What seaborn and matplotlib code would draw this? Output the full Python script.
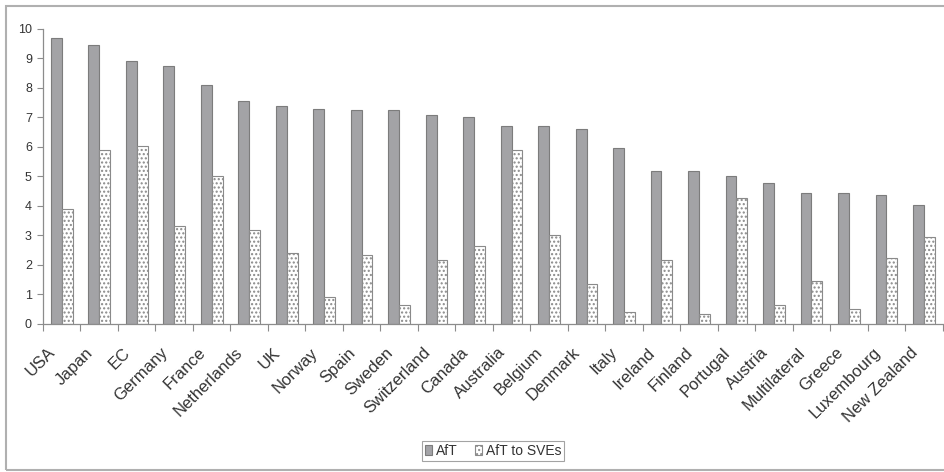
import numpy as np
import pandas as pd
import seaborn as sns
import matplotlib
matplotlib.use("Agg")
import matplotlib.pyplot as plt
from matplotlib.patches import Rectangle, Patch
from matplotlib.transforms import ScaledTranslation

# Aid for Trade commitments by donor (share, %)
countries = ["USA", "Japan", "EC", "Germany", "France", "Netherlands", "UK",
             "Norway", "Spain", "Sweden", "Switzerland", "Canada", "Australia",
             "Belgium", "Denmark", "Italy", "Ireland", "Finland", "Portugal",
             "Austria", "Multilateral", "Greece", "Luxembourg", "New Zealand"]
aft = [9.7, 9.45, 8.9, 8.75, 8.1, 7.55, 7.4, 7.3, 7.25, 7.25, 7.07, 7.0,
       6.7, 6.7, 6.6, 5.97, 5.17, 5.17, 5.0, 4.77, 4.45, 4.45, 4.37, 4.05]
aft_sves = [3.9, 5.9, 6.05, 3.33, 5.0, 3.2, 2.4, 0.9, 2.33, 0.65, 2.17, 2.63,
            5.9, 3.03, 1.37, 0.42, 2.16, 0.34, 4.28, 0.65, 1.45, 0.5, 2.23, 2.95]
series_names = ["AfT", "AfT to SVEs"]
y_ticks = list(range(0, 11))

df = pd.DataFrame({
    "country": countries * 2,
    "value": aft + aft_sves,
    "series": [series_names[0]] * len(countries) + [series_names[1]] * len(countries),
})

sns.set_style("white")
plt.rcParams["font.family"] = ["Liberation Sans", "DejaVu Sans"]
plt.rcParams["hatch.color"] = "#8a8a8a"
plt.rcParams["hatch.linewidth"] = 1.0

GRAY = "#a3a3a7"
EDGE = "#7c7c7c"
TEXT = "#333333"

fig = plt.figure(figsize=(9.45, 4.72), dpi=100)
ax = fig.add_axes([0.0455, 0.3136, 0.952, 0.625])

sns.barplot(data=df, x="country", y="value", hue="series",
            palette=[GRAY, "white"], width=0.58, gap=0.0,
            edgecolor=EDGE, linewidth=0.8, ax=ax, legend=False)

for bar in ax.containers[1]:
    bar.set_hatch("....")
    bar.set_edgecolor("#8a8a8a")

ax.set_xlim(-0.5, len(countries) - 0.5)
ax.set_ylim(0, 10)
ax.set_yticks(y_ticks)
ax.set_xlabel("")
ax.set_ylabel("")

for side in ["top", "right"]:
    ax.spines[side].set_visible(False)
for side in ["left", "bottom"]:
    ax.spines[side].set_color("#8c8c8c")
    ax.spines[side].set_linewidth(0.9)

ax.tick_params(axis="y", which="major", direction="out", length=4, width=0.8,
               color="#8c8c8c", labelsize=9, labelcolor=TEXT, pad=4, left=True)
ax.set_xticks(np.arange(len(countries)))
ax.set_xticklabels(countries, rotation=45, ha="right", rotation_mode="anchor",
                   fontsize=12, color=TEXT)
ax.tick_params(axis="x", which="major", length=0, pad=15)
ax.set_xticks(np.arange(-0.5, len(countries)), minor=True)
ax.tick_params(axis="x", which="minor", direction="out", length=5, width=0.8,
               color="#8c8c8c", bottom=True)

# nudge the slanted category names a little to the left of each group
shift = ScaledTranslation(-14 / 100, 0, fig.dpi_scale_trans)
for lbl in ax.get_xticklabels():
    lbl.set_transform(lbl.get_transform() + shift)

handles = [Patch(facecolor=GRAY, edgecolor=EDGE, linewidth=0.8, label=series_names[0]),
           Patch(facecolor="white", edgecolor="#8a8a8a", hatch="....", linewidth=0.8,
                 label=series_names[1])]
leg = fig.legend(handles=handles, loc="center", bbox_to_anchor=(0.522, 0.045),
                 ncol=2, frameon=True, fancybox=False, fontsize=10,
                 handlelength=0.5, handleheight=0.8, handletextpad=0.3,
                 columnspacing=1.2, borderpad=0.2, edgecolor="#8c8c8c")
leg.get_frame().set_linewidth(0.8)
for txt in leg.get_texts():
    txt.set_color(TEXT)

# chart area border
fig.patches.append(Rectangle((6 / 945, 2 / 472), 1.0, 464 / 472,
                             transform=fig.transFigure, fill=False,
                             edgecolor="#b0b0b0", linewidth=1.5, zorder=0))

fig.savefig("out.png", dpi=100, facecolor="white")
